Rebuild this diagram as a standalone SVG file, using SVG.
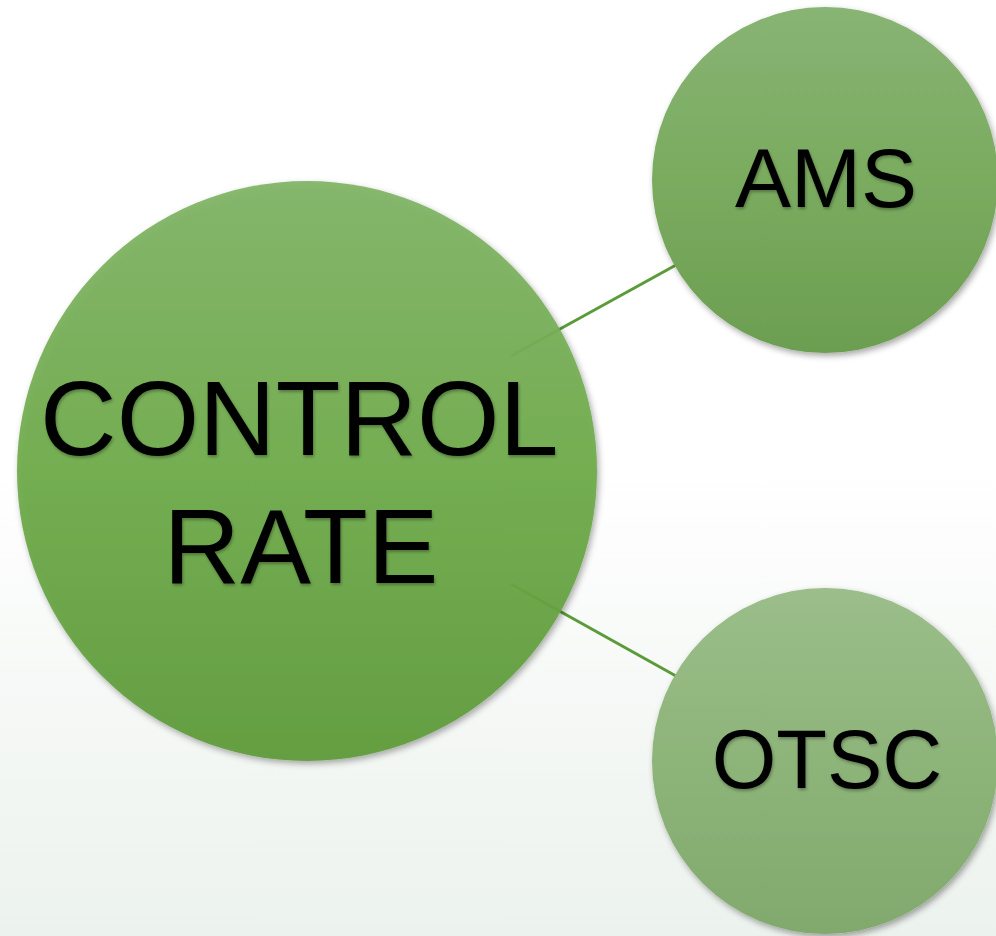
<svg xmlns="http://www.w3.org/2000/svg" width="996" height="936" viewBox="0 0 996 936">
  <defs>
    <linearGradient id="bg" x1="0" y1="0" x2="0" y2="1">
      <stop offset="0" stop-color="#ffffff"/>
      <stop offset="0.5" stop-color="#ffffff"/>
      <stop offset="1" stop-color="#ecf2ed"/>
    </linearGradient>
    <linearGradient id="gMain" x1="0" y1="0" x2="0" y2="1">
      <stop offset="0" stop-color="#80b465"/>
      <stop offset="0.5" stop-color="#6eab4a"/>
      <stop offset="1" stop-color="#5f9b3a"/>
    </linearGradient>
    <linearGradient id="gAms" x1="0" y1="0" x2="0" y2="1">
      <stop offset="0" stop-color="#88b474"/>
      <stop offset="0.5" stop-color="#7aab5f"/>
      <stop offset="1" stop-color="#6c9e51"/>
    </linearGradient>
    <linearGradient id="gOtsc" x1="0" y1="0" x2="0" y2="1">
      <stop offset="0" stop-color="#9bbe8a"/>
      <stop offset="0.5" stop-color="#8db479"/>
      <stop offset="1" stop-color="#82a96d"/>
    </linearGradient>
    <filter id="shadow" x="-10%" y="-10%" width="120%" height="120%">
      <feDropShadow dx="2" dy="3" stdDeviation="3" flood-color="#000" flood-opacity="0.35"/>
    </filter>
    <filter id="tshadow" x="-5%" y="-5%" width="110%" height="120%">
      <feDropShadow dx="1" dy="2" stdDeviation="1.5" flood-color="#000" flood-opacity="0.3"/>
    </filter>
  </defs>
  <style>
    .label { font-family: "Liberation Sans", Arial, sans-serif; fill: #000; text-anchor: middle; }
    .link { stroke: #5b9b39; stroke-width: 3; fill: none; }
  </style>

  <rect x="0" y="0" width="996" height="936" fill="url(#bg)"/>

  <!-- connectors, drawn under the circles -->
  <g id="connectors">
    <line class="link" x1="511" y1="356" x2="676" y2="265"/>
    <line class="link" x1="511" y1="584" x2="676" y2="676"/>
  </g>

  <g id="node-control-rate">
    <circle cx="307" cy="471" r="290" fill="url(#gMain)" fill-opacity="0.93" filter="url(#shadow)"/>
    <text class="label" font-size="106" filter="url(#tshadow)">
      <tspan x="312" y="455">CONTROL</tspan>
      <tspan x="301" y="583">RATE</tspan>
    </text>
  </g>

  <g id="node-ams">
    <circle cx="825" cy="180" r="173" fill="url(#gAms)" filter="url(#shadow)"/>
    <text class="label" x="826" y="207" font-size="84" filter="url(#tshadow)">AMS</text>
  </g>

  <g id="node-otsc">
    <circle cx="825" cy="761" r="173" fill="url(#gOtsc)" filter="url(#shadow)"/>
    <text class="label" x="827" y="788" font-size="83" filter="url(#tshadow)">OTSC</text>
  </g>
</svg>
